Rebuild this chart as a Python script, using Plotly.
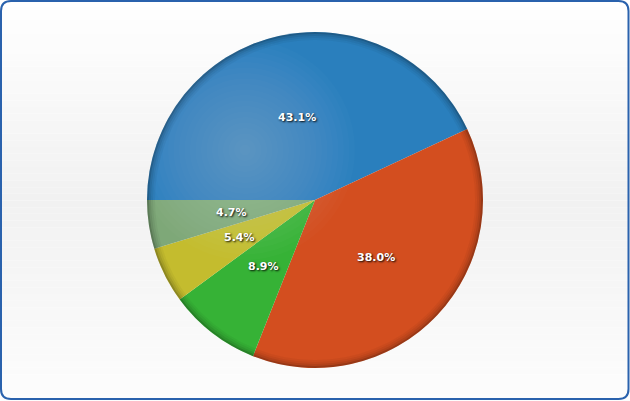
import math
import plotly.graph_objects as go

labels = ["Series A", "Series B", "Series C", "Series D", "Series E"]
values = [43.1, 38.0, 8.9, 5.4, 4.7]
colors = ["#2a7fbd", "#d34e1f", "#36b236", "#c4bc2e", "#7ea878"]

W, H = 630, 401
mt, mb = 32, 33
ph = H - mt - mb
R = ph / 2.0

fig = go.Figure()
fig.add_trace(go.Pie(
    labels=labels, values=values, sort=False, direction="clockwise",
    rotation=270, marker=dict(colors=colors, line=dict(width=0)),
    textinfo="none", hoverinfo="label+percent", showlegend=False,
    domain=dict(x=[0, 1], y=[0, 1]),
))

shapes = []
# background gradient
n = 60
def lerp(a, b, t):
    return int(round(a + (b - a) * t))
for i in range(n):
    py0 = H * i / n
    py1 = H * (i + 1) / n
    t = (py0 + py1) / 2 / H
    if t < 0.5:
        g = lerp(255, 241, t / 0.5)
    else:
        g = lerp(241, 253, (t - 0.5) / 0.5)
    shapes.append(dict(type="rect", xref="paper", yref="paper",
                       x0=0, x1=1, y0=(H - mb - py1) / ph, y1=(H - mb - py0) / ph,
                       fillcolor=f"rgb({g},{g},{g})", line=dict(width=0), layer="below"))

def px(x):
    return x / W
def py(y):
    return (H - mb - y) / ph

# rounded border
x0, y0, x1, y1, r = 1, 1, 628.5, 399, 10
path = (f"M {px(x0 + r)},{py(y0)} L {px(x1 - r)},{py(y0)} Q {px(x1)},{py(y0)} {px(x1)},{py(y0 + r)} "
        f"L {px(x1)},{py(y1 - r)} Q {px(x1)},{py(y1)} {px(x1 - r)},{py(y1)} "
        f"L {px(x0 + r)},{py(y1)} Q {px(x0)},{py(y1)} {px(x0)},{py(y1 - r)} "
        f"L {px(x0)},{py(y0 + r)} Q {px(x0)},{py(y0)} {px(x0 + r)},{py(y0)} Z")
shapes.append(dict(type="path", xref="paper", yref="paper", path=path,
                   line=dict(color="#2a62ad", width=2), layer="above"))

cx, cy = W / 2, mt + R
# soft highlight
hx, hy = cx - 70, cy - 50
for k in range(20):
    rr = 110 - k * 5.5
    shapes.append(dict(type="circle", xref="paper", yref="paper",
                       x0=px(hx - rr), x1=px(hx + rr), y0=py(hy + rr), y1=py(hy - rr),
                       fillcolor="rgba(255,255,255,0.016)", line=dict(width=0), layer="above"))
# edge darkening rings
for k, (w, a) in enumerate([(2, 0.28), (2, 0.16), (2, 0.09), (2, 0.04)]):
    rr = R - 1 - 2 * k
    shapes.append(dict(type="circle", xref="paper", yref="paper",
                       x0=px(cx - rr), x1=px(cx + rr), y0=py(cy + rr), y1=py(cy - rr),
                       line=dict(color=f"rgba(0,0,0,{a})", width=w), layer="above"))

annotations = []
total = sum(values)
start = 180.0
for v in values:
    span = v / total * 360.0
    mid = start - span / 2
    start -= span
    ax = cx + 0.5 * R * math.cos(math.radians(mid))
    ay = cy - 0.5 * R * math.sin(math.radians(mid))
    annotations.append(dict(x=px(ax), y=py(ay), xref="paper", yref="paper",
                            xanchor="center", yanchor="middle",
                            text=f"{v:.1f}%", showarrow=False,
                            font=dict(family="DejaVu Sans", size=11, color="white",
                                      weight="bold", shadow="1px 1px 2px rgba(0,0,0,0.95)")))

fig.update_layout(width=W, height=H, margin=dict(l=0, r=0, t=mt, b=mb),
                  paper_bgcolor="white", shapes=shapes, annotations=annotations,
                  showlegend=False)
fig.write_html("out.html", config={"displayModeBar": False},
               post_script="document.body.style.margin='0';document.body.style.overflow='hidden';")
